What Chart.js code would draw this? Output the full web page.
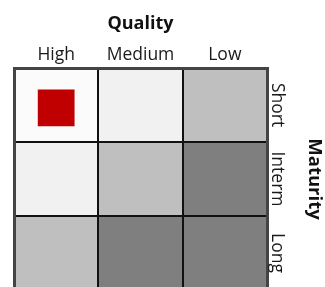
<!DOCTYPE html>
<html lang="en">
<head>
  <meta charset="UTF-8">
  <title>Quality / Maturity</title>
  <script src="https://cdn.jsdelivr.net/npm/chart.js"></script>
  <style>
    html, body { margin: 0; padding: 0; background: #fff; overflow: hidden; }
    #wrap { width: 325px; height: 302px; }
  </style>
</head>
<body>
  <div id="wrap"><canvas id="styleBox"></canvas></div>

  <script>
    const quality = ["High", "Medium", "Low"];
    const maturity = ["Short", "Interm", "Long"];
    // shade level of each cell, row by row (0 = lightest)
    const shadeLevel = [
      [0, 1, 2],
      [1, 2, 3],
      [2, 3, 3]
    ];
    const position = [{ x: "High", y: 0.54 }];

    const palette = ["#fbfbfb", "#f1f1f1", "#bfbfbf", "#7f7f7f"];
    const fontFamily = "'Open Sans', sans-serif";

    const rowSets = maturity.map(function (name, r) {
      return {
        label: name,
        data: quality.map(function () { return [r, r + 1]; }),
        backgroundColor: shadeLevel[r].map(function (l) { return palette[l]; }),
        borderWidth: 0,
        grouped: false,
        barPercentage: 1,
        categoryPercentage: 1,
        order: 2
      };
    });

    // inner lines only, the outer frame comes from the axis borders
    const innerLine = function (count) {
      return function (c) {
        return (c.index === 0 || c.index === count) ? "rgba(0,0,0,0)" : "#111";
      };
    };

    const sideLabels = {
      id: "sideLabels",
      afterDraw: function (chart) {
        const s = chart.scales.y2;
        const ctx = chart.ctx;
        ctx.save();
        ctx.font = "17.5px " + fontFamily;
        ctx.fillStyle = "#1a1a1a";
        ctx.textAlign = "center";
        ctx.textBaseline = "middle";
        maturity.forEach(function (name, i) {
          ctx.save();
          ctx.translate(s.left + 10, s.getPixelForTick(i));
          ctx.rotate(Math.PI / 2);
          ctx.fillText(name, 0, 0);
          ctx.restore();
        });
        ctx.restore();
      }
    };

    new Chart(document.getElementById("styleBox"), {
      type: "bar",
      data: {
        labels: quality,
        datasets: rowSets.concat([{
          type: "line",
          label: "Fund",
          data: position,
          showLine: false,
          pointStyle: "rect",
          pointRadius: 26,
          pointBorderWidth: 0,
          pointBackgroundColor: "#c00000",
          order: 1
        }])
      },
      options: {
        responsive: true,
        maintainAspectRatio: false,
        animation: false,
        layout: { autoPadding: false, padding: { left: 14, top: 0, right: 0, bottom: 12 } },
        plugins: { legend: { display: false }, tooltip: { enabled: false } },
        scales: {
          x: {
            position: "top",
            offset: true,
            grid: { offset: true, drawTicks: false, color: innerLine(3), lineWidth: 2, z: 1 },
            border: { color: "#444", width: 3, z: 2 },
            ticks: { color: "#1a1a1a", padding: 2, font: { family: fontFamily, size: 17.5 } },
            title: {
              display: true, text: "Quality", color: "#111",
              padding: { top: 13, bottom: 0 },
              font: { family: fontFamily, size: 18, weight: "bold" }
            },
            afterFit: function (s) { s.height = 68; s.paddingLeft = 0; s.paddingRight = 0; }
          },
          y: {
            position: "left",
            min: 0, max: 3, reverse: true,
            ticks: { display: false, stepSize: 1 },
            grid: { drawTicks: false, color: innerLine(3), lineWidth: 2, z: 1 },
            border: { color: "#444", width: 3, z: 2 },
            afterFit: function (s) { s.width = 0; s.paddingTop = 0; s.paddingBottom = 0; }
          },
          y2: {
            type: "category",
            position: "right",
            labels: maturity,
            offset: true,
            ticks: { display: false },
            grid: { display: false },
            border: { color: "#444", width: 3, z: 2 },
            title: {
              display: true, text: "Maturity", color: "#111",
              padding: { top: 0, bottom: 0 },
              font: { family: fontFamily, size: 18.5, weight: "bold" }
            },
            afterFit: function (s) { s.width = 58; s.paddingTop = 0; s.paddingBottom = 0; }
          }
        }
      },
      plugins: [sideLabels]
    });
  </script>
</body>
</html>
